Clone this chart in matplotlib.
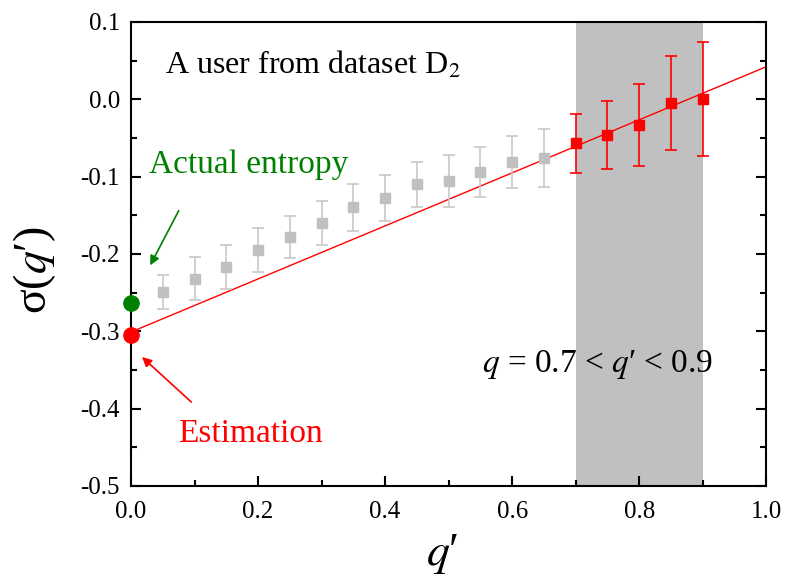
import numpy as np
import matplotlib
matplotlib.use('Agg')
import matplotlib.pyplot as plt
from matplotlib.ticker import MultipleLocator

plt.rcParams['font.family'] = ['Liberation Serif', 'DejaVu Serif']
plt.rcParams['mathtext.fontset'] = 'stix'

# gray points (outside the fitting window)
q_gray = [0.05, 0.10, 0.15, 0.20, 0.25, 0.30, 0.35, 0.40, 0.45, 0.50, 0.55, 0.60, 0.65]
s_gray = [-0.249, -0.232, -0.217, -0.195, -0.178, -0.160, -0.140, -0.128, -0.110, -0.106, -0.094, -0.081, -0.076]
e_gray = [0.022, 0.028, 0.029, 0.028, 0.027, 0.029, 0.030, 0.030, 0.029, 0.034, 0.032, 0.034, 0.037]

# red points (fitting window 0.7 < q' < 0.9)
q_red = [0.70, 0.75, 0.80, 0.85, 0.90]
s_red = [-0.057, -0.046, -0.033, -0.005, 0.000]
e_red = [0.038, 0.044, 0.053, 0.061, 0.074]

# linear fit
fit_intercept = -0.301
fit_slope = 0.343

actual_entropy = -0.264
estimation = -0.305

xticks = [0.0, 0.2, 0.4, 0.6, 0.8, 1.0]
yticks = [-0.5, -0.4, -0.3, -0.2, -0.1, 0.0, 0.1]

fig = plt.figure(figsize=(7.85, 5.77), dpi=100)
ax = fig.add_axes([0.167, 0.158, 0.809, 0.804])

ax.axvspan(0.7, 0.9, color='#c0c0c0', zorder=0, lw=0)

xf = np.array([0.0, 1.0])
ax.plot(xf, fit_intercept + fit_slope * xf, color='red', lw=1.0, zorder=2)

ax.errorbar(q_gray, s_gray, yerr=e_gray, fmt='s', color='#c0c0c0', ms=7,
            ecolor='#c8c8c8', elinewidth=1.2, capsize=4.5, capthick=1.2, zorder=3)
ax.errorbar(q_red, s_red, yerr=e_red, fmt='s', color='red', ms=7,
            ecolor='red', elinewidth=1.2, capsize=4.5, capthick=1.2, zorder=4)

ax.plot([0], [actual_entropy], 'o', color='green', ms=11, clip_on=False, zorder=5)
ax.plot([0], [estimation], 'o', color='red', ms=11, clip_on=False, zorder=5)

ax.annotate('', xy=(0.028, -0.218), xytext=(0.077, -0.141),
            arrowprops=dict(arrowstyle='-|>', color='green', lw=1.2, mutation_scale=14))
ax.annotate('', xy=(0.014, -0.331), xytext=(0.098, -0.394),
            arrowprops=dict(arrowstyle='-|>', color='red', lw=1.2, mutation_scale=14))

ax.text(0.028, -0.095, 'Actual entropy', color='green', fontsize=24, va='baseline')
ax.text(0.074, -0.443, 'Estimation', color='red', fontsize=24, va='baseline')
ax.text(0.054, 0.033, 'A user from dataset D$_2$', color='black', fontsize=23, va='baseline')
ax.text(0.553, -0.353, '$q$ = 0.7 < $q$\u2032 < 0.9', color='black', fontsize=24, va='baseline')

ax.set_xlim(0, 1.0)
ax.set_ylim(-0.5, 0.1)
ax.set_xticks(xticks)
ax.set_xticklabels([f'{v:.1f}' for v in xticks])
ax.set_yticks(yticks)
ax.set_yticklabels([f'{v:.1f}' for v in yticks])
ax.xaxis.set_minor_locator(MultipleLocator(0.1))
ax.yaxis.set_minor_locator(MultipleLocator(0.05))
ax.tick_params(which='both', direction='in', right=True, labelsize=18, width=1.5)
ax.tick_params(which='major', length=7)
ax.tick_params(which='minor', length=4)
ax.tick_params(axis='x', pad=11)
ax.tick_params(axis='y', pad=8)
for sp in ax.spines.values():
    sp.set_linewidth(1.5)

ax.set_xlabel('$q$\u2032', fontsize=33)
ax.xaxis.set_label_coords(0.49, -0.1, transform=ax.transAxes)
ax.xaxis.label.set_va('top')
ax.set_ylabel('σ($q$\u2032)', fontsize=33)
ax.yaxis.set_label_coords(-0.115, 0.465, transform=ax.transAxes)

fig.savefig('out.png', dpi=100)
